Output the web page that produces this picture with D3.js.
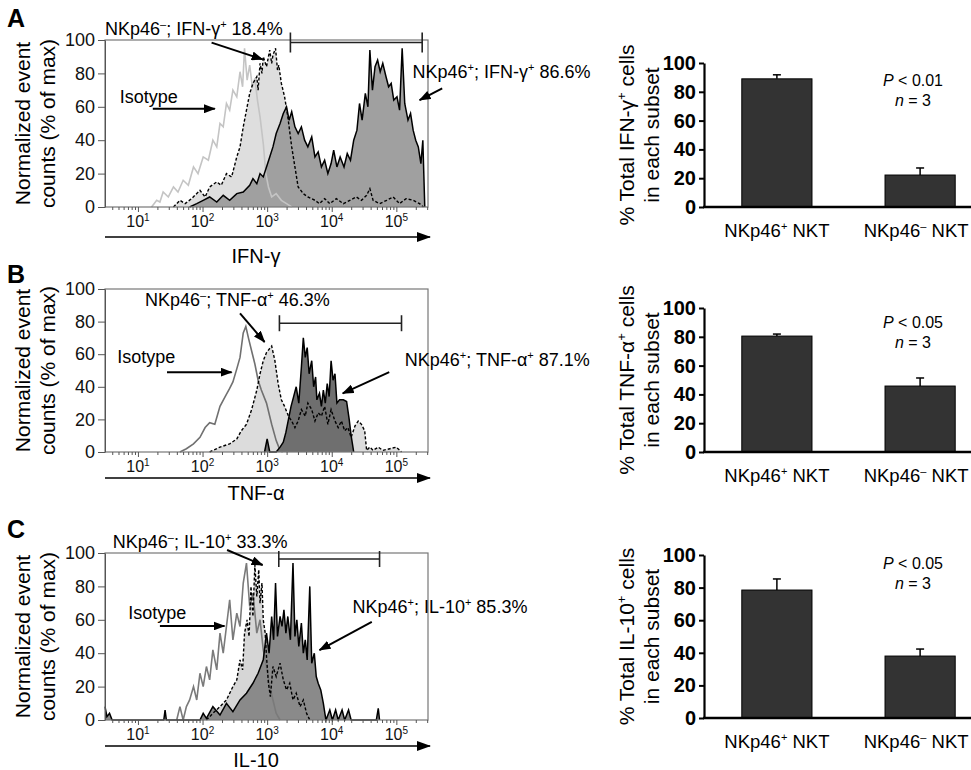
<!DOCTYPE html>
<html>
<head>
<meta charset="utf-8">
<script src="https://cdn.jsdelivr.net/npm/d3@7"></script>
<style>
  body { margin: 0; background: #fff; }
  svg { display: block; font-family: "Liberation Sans", Arial, Helvetica, sans-serif; }
</style>
</head>
<body>
<svg id="fig" width="971" height="770"></svg>
<script>
// histogram curves: [log10 fluorescence, % of max]
var ifnIsotype = [[1.21,0],[1.25,2],[1.29,4],[1.34,3],[1.39,9],[1.47,6],[1.55,12],[1.62,9],[1.70,16],[1.78,13],[1.86,24],[1.93,20],[2.01,30],[2.09,28],[2.16,40],[2.22,36],[2.27,50],[2.32,48],[2.37,62],[2.42,58],[2.47,70],[2.53,66],[2.58,81],[2.62,72],[2.65,95],[2.69,76],[2.73,85],[2.77,72],[2.81,77],[2.85,64],[2.89,54],[2.94,38],[2.98,20],[3.02,12],[3.07,6],[3.14,8],[3.22,4],[3.30,2],[3.38,0]];
var ifnNeg = [[1.55,0],[1.65,4],[1.73,2],[1.83,5],[1.96,10],[2.04,6],[2.11,12],[2.22,15],[2.29,13],[2.37,20],[2.45,18],[2.53,30],[2.58,36],[2.63,48],[2.68,58],[2.73,68],[2.78,74],[2.84,78],[2.86,70],[2.89,86],[2.92,80],[2.94,90],[2.99,84],[3.04,94],[3.07,86],[3.09,91],[3.13,95],[3.16,82],[3.18,85],[3.22,74],[3.27,66],[3.32,54],[3.38,36],[3.43,24],[3.48,12],[3.56,8],[3.63,6],[3.74,4],[3.81,2],[3.89,5],[3.97,2],[4.07,5],[4.18,2],[4.28,4],[4.38,6],[4.46,4],[4.54,7],[4.59,11],[4.64,4],[4.74,2],[4.85,4],[4.95,6],[5.05,2],[5.15,5],[5.26,4],[5.36,2],[5.42,0]];
var ifnPos = [[1.80,0],[1.91,2],[2.01,4],[2.11,6],[2.22,3],[2.32,7],[2.42,4],[2.53,8],[2.63,9],[2.73,13],[2.78,17],[2.84,14],[2.89,20],[2.94,18],[2.99,24],[3.04,30],[3.09,36],[3.14,44],[3.20,50],[3.25,56],[3.30,60],[3.34,52],[3.38,57],[3.43,48],[3.48,44],[3.53,48],[3.58,40],[3.63,36],[3.69,42],[3.74,30],[3.79,33],[3.84,24],[3.89,28],[3.94,20],[3.99,26],[4.03,34],[4.08,24],[4.13,30],[4.19,24],[4.24,32],[4.29,28],[4.34,40],[4.39,46],[4.43,62],[4.47,52],[4.52,68],[4.56,60],[4.59,94],[4.63,70],[4.67,84],[4.71,88],[4.75,81],[4.79,86],[4.84,78],[4.88,72],[4.92,74],[4.96,64],[5.01,66],[5.05,58],[5.09,95],[5.13,62],[5.18,52],[5.22,56],[5.26,46],[5.30,40],[5.34,36],[5.38,26],[5.41,40],[5.44,0]];

var tnfIsotype = [[1.65,0],[1.75,2],[1.86,5],[1.96,9],[2.04,15],[2.11,18],[2.19,17],[2.27,28],[2.35,34],[2.42,39],[2.47,43],[2.53,51],[2.58,58],[2.63,73],[2.67,77],[2.71,70],[2.76,62],[2.81,54],[2.86,44],[2.91,38],[2.99,30],[3.07,17],[3.14,7],[3.20,1],[3.24,0]];
var tnfNeg = [[2.11,0],[2.27,3],[2.42,5],[2.53,8],[2.60,13],[2.68,17],[2.76,26],[2.84,38],[2.89,48],[2.94,56],[2.99,61],[3.07,65],[3.12,56],[3.17,42],[3.22,32],[3.27,28],[3.33,22],[3.38,19],[3.43,15],[3.48,19],[3.53,26],[3.59,22],[3.63,30],[3.69,26],[3.74,19],[3.79,24],[3.84,22],[3.89,28],[3.94,17],[3.99,26],[4.05,19],[4.10,15],[4.15,19],[4.20,13],[4.25,15],[4.30,9],[4.36,16],[4.41,19],[4.46,17],[4.51,13],[4.54,1],[4.59,3],[4.64,1],[4.72,3],[4.79,1],[4.90,2],[5.00,3],[5.08,0]];
var tnfPos = [[2.96,0],[3.00,8],[3.04,0],[3.14,0],[3.20,3],[3.25,6],[3.29,12],[3.33,20],[3.37,28],[3.41,34],[3.45,40],[3.49,30],[3.53,52],[3.56,70],[3.59,58],[3.62,64],[3.65,48],[3.69,56],[3.72,40],[3.75,46],[3.77,32],[3.81,36],[3.84,28],[3.87,38],[3.90,30],[3.93,42],[3.96,34],[3.99,56],[4.02,44],[4.05,48],[4.08,30],[4.12,32],[4.18,32],[4.23,31],[4.27,20],[4.30,10],[4.34,0]];

var il10Isotype = [[1.60,0],[1.65,8],[1.70,0],[1.75,8],[1.80,12],[1.86,20],[1.91,12],[1.96,28],[2.01,20],[2.06,32],[2.11,24],[2.16,42],[2.22,30],[2.27,52],[2.32,40],[2.37,56],[2.42,72],[2.47,48],[2.53,64],[2.58,56],[2.63,82],[2.68,94],[2.73,68],[2.78,76],[2.84,52],[2.89,60],[2.94,42],[2.99,32],[3.04,20],[3.09,12],[3.14,4],[3.20,0]];
var il10Neg = [[2.06,0],[2.16,4],[2.27,8],[2.37,12],[2.47,20],[2.53,24],[2.58,36],[2.62,30],[2.65,52],[2.69,60],[2.72,50],[2.75,80],[2.78,62],[2.81,93],[2.84,74],[2.87,90],[2.89,70],[2.92,82],[2.94,60],[2.97,52],[2.99,38],[3.02,22],[3.05,14],[3.09,32],[3.14,26],[3.20,34],[3.25,24],[3.30,18],[3.35,22],[3.40,12],[3.45,16],[3.51,8],[3.56,12],[3.61,4],[3.66,0]];
var il10Pos = [[0.49,8],[0.52,2],[0.56,4],[0.60,0],[1.40,0],[1.42,6],[1.44,0],[1.96,0],[2.01,4],[2.06,1],[2.16,8],[2.27,3],[2.37,10],[2.47,5],[2.58,12],[2.68,16],[2.78,22],[2.86,28],[2.94,36],[2.99,52],[3.03,40],[3.07,62],[3.10,48],[3.13,82],[3.16,50],[3.20,62],[3.23,56],[3.26,66],[3.29,52],[3.32,62],[3.36,48],[3.40,94],[3.43,50],[3.46,60],[3.49,44],[3.53,58],[3.56,40],[3.59,48],[3.62,36],[3.66,80],[3.69,34],[3.73,40],[3.76,26],[3.79,22],[3.83,18],[3.87,10],[3.91,0],[3.97,6],[4.01,0],[4.06,6],[4.10,0],[4.16,6],[4.20,0],[4.26,6],[4.30,0],[4.69,0],[4.72,7],[4.74,0]];

// positive gates: [from log10, to log10, height %]
var ifnGate = [3.36, 5.40, 98.5];
var tnfGate = [3.19, 5.08, 79];
var il10Gate = [3.18, 4.74, 96.4];

var histYTicks = [0, 20, 40, 60, 80, 100];
var decadeLabels = [1, 2, 3, 4, 5];
var axisTitles = ["IFN-γ", "TNF-α", "IL-10"];
var negLabels = ["NKp46⁻; IFN-γ⁺ 18.4%", "NKp46⁻; TNF-α⁺ 46.3%", "NKp46⁻; IL-10⁺ 33.3%"];
var posLabels = ["NKp46⁺; IFN-γ⁺ 86.6%", "NKp46⁺; TNF-α⁺ 87.1%", "NKp46⁺; IL-10⁺ 85.3%"];

// bar charts
var barCategories = ["NKp46⁺ NKT", "NKp46⁻ NKT"];
var ifnPercent = [89, 22.2];
var ifnSem = [2.8, 4.9];
var tnfPercent = [80.5, 45.8];
var tnfSem = [1.4, 5.6];
var il10Percent = [78.5, 38];
var il10Sem = [6.8, 4.3];
var barYTicks = [0, 20, 40, 60, 80, 100];
var barYLabels = ["% Total IFN-γ⁺ cells", "% Total TNF-α⁺ cells", "% Total IL-10⁺ cells"];
var pValues = ["0.01", "0.05", "0.05"];
var nValues = [3, 3, 3];

var svg = d3.select("#fig");

// arrow heads
var defs = svg.append("defs");
defs.append("marker").attr("id", "head")
  .attr("markerUnits", "userSpaceOnUse").attr("viewBox", "0 0 12 9")
  .attr("markerWidth", 12).attr("markerHeight", 9)
  .attr("refX", 11).attr("refY", 4.5).attr("orient", "auto")
  .append("path").attr("d", "M0,0L12,4.5L0,9Z").attr("fill", "#000");
defs.append("marker").attr("id", "bighead")
  .attr("markerUnits", "userSpaceOnUse").attr("viewBox", "0 0 14 10")
  .attr("markerWidth", 14).attr("markerHeight", 10)
  .attr("refX", 13).attr("refY", 5).attr("orient", "auto")
  .append("path").attr("d", "M0,0L14,5L0,10Z").attr("fill", "#000");

// text with superscript + and - signs
function rich(el, str, fs) {
  var shift = Math.round(fs * 0.38);
  var raised = false;
  str.split(/([⁺⁻])/).forEach(function (p) {
    if (!p) return;
    var sup = (p === "⁺" || p === "⁻");
    var t = el.append("tspan").text(sup ? (p === "⁺" ? "+" : "–") : p);
    if (sup) {
      t.attr("font-size", Math.round(fs * 0.62)).attr("dy", raised ? 0 : -shift);
      raised = true;
    } else {
      t.attr("dy", raised ? shift : 0);
      raised = false;
    }
  });
  return el;
}

var histRows = [
  { letter: "A", letterY: 27, top: 40, bottom: 207, iso: ifnIsotype, neg: ifnNeg, pos: ifnPos, gate: ifnGate, gateTick: 10,
    isoColor: "#c4c4c4", negFill: "#dedede", posFill: "#a0a0a0", arrowY: 237, titleY: 263,
    negAt: [0.49, 103], negArrow: [[2.14, 98.4], [2.93, 88.4]],
    isoAt: [0.72, 62], isoArrow: [[1.23, 58.8], [2.19, 58.8]],
    posAt: [5.25, 77], posArrow: [[5.71, 71], [5.36, 64]] },
  { letter: "B", letterY: 283, top: 289, bottom: 452, iso: tnfIsotype, neg: tnfNeg, pos: tnfPos, gate: tnfGate, gateTick: 8,
    isoColor: "#707070", negFill: "#dcdcdc", posFill: "#6f6f6f", arrowY: 478, titleY: 500,
    negAt: [1.11, 89.5], negArrow: [[2.58, 85], [2.96, 67.5]],
    isoAt: [0.68, 54.6], isoArrow: [[1.45, 49], [2.45, 49]],
    posAt: [5.13, 52.8], posArrow: [[4.89, 49], [4.17, 36]] },
  { letter: "C", letterY: 538, top: 553, bottom: 720, iso: il10Isotype, neg: il10Neg, pos: il10Pos, gate: il10Gate, gateTick: 8,
    isoColor: "#7a7a7a", negFill: "#d6d6d6", posFill: "#8a8a8a", arrowY: 746, titleY: 767,
    negAt: [0.61, 103], negArrow: [[2.38, 101.8], [2.93, 92.8]],
    isoAt: [0.85, 60.5], isoArrow: [[1.34, 56.3], [2.34, 56.3]],
    posAt: [4.32, 64], posArrow: [[4.62, 58.7], [3.81, 41.9]] }
];

var x = d3.scaleLog().domain([Math.pow(10, 0.49), Math.pow(10, 5.49)]).range([105, 428]);
function px(e) { return x(Math.pow(10, e)); }

var xTicks = [];
[0, 1, 2, 3, 4, 5].forEach(function (k) {
  for (var m = 1; m <= 9; m++) {
    var v = m * Math.pow(10, k);
    if (v >= x.domain()[0] && v <= x.domain()[1]) xTicks.push(v);
  }
});

histRows.forEach(function (r, i) {
  var y = d3.scaleLinear().domain([0, 100]).range([r.bottom, r.top]);
  var g = svg.append("g");

  var area = d3.area().x(function (d) { return px(d[0]); }).y0(y(0)).y1(function (d) { return y(d[1]); });
  var line = d3.line().x(function (d) { return px(d[0]); }).y(function (d) { return y(d[1]); });

  g.append("path").datum(r.neg).attr("d", area).attr("fill", r.negFill);
  g.append("path").datum(r.pos).attr("d", area).attr("fill", r.posFill);
  g.append("path").datum(r.iso).attr("d", line).attr("fill", "none").attr("stroke", r.isoColor).attr("stroke-width", 1.6);
  g.append("path").datum(r.neg).attr("d", line).attr("fill", "none").attr("stroke", "#000")
    .attr("stroke-width", 1.4).attr("stroke-dasharray", "3,2");
  g.append("path").datum(r.pos).attr("d", line).attr("fill", "none").attr("stroke", "#000").attr("stroke-width", 1.5);

  // frame
  g.append("rect").attr("x", 105).attr("y", r.top).attr("width", 323).attr("height", r.bottom - r.top)
    .attr("fill", "none").attr("stroke", "#777").attr("stroke-width", 1.2);

  // y axis
  var gy = g.append("g").attr("transform", "translate(105,0)")
    .call(d3.axisLeft(y).tickValues(histYTicks).tickSize(7).tickSizeOuter(0).tickPadding(3));
  gy.select(".domain").attr("stroke", "#555");
  gy.selectAll(".tick line").attr("stroke", "#555");
  gy.selectAll(".tick text").attr("font-size", 18).attr("font-family", null).attr("fill", "#111");

  // x axis (log)
  var gx = g.append("g").attr("transform", "translate(0," + r.bottom + ")")
    .call(d3.axisBottom(x).tickValues(xTicks).tickSize(3).tickSizeOuter(0).tickFormat(""));
  gx.select(".domain").remove();
  gx.selectAll(".tick line").attr("stroke", "#555")
    .attr("y2", function (d) { return Math.abs(Math.log10(d) - Math.round(Math.log10(d))) < 1e-9 ? 5 : 3; });
  decadeLabels.forEach(function (k) {
    var t = gx.append("text").attr("x", x(Math.pow(10, k))).attr("y", 20)
      .attr("text-anchor", "middle").attr("font-size", 16).attr("fill", "#111");
    t.append("tspan").text("10");
    t.append("tspan").attr("dy", -6).attr("font-size", 10).text(k);
  });

  // axis arrow and title
  g.append("line").attr("x1", 105).attr("x2", 430).attr("y1", r.arrowY).attr("y2", r.arrowY)
    .attr("stroke", "#000").attr("stroke-width", 1.6).attr("marker-end", "url(#bighead)");
  g.append("text").attr("x", 256).attr("y", r.titleY).attr("text-anchor", "middle")
    .attr("font-size", 20).text(axisTitles[i]);

  // y label
  var yl = g.append("text").attr("transform", "translate(0," + ((r.top + r.bottom) / 2) + ") rotate(-90)")
    .attr("text-anchor", "middle").attr("font-size", 21);
  yl.append("tspan").attr("x", 0).attr("y", 30).text("Normalized event");
  yl.append("tspan").attr("x", 0).attr("y", 55).text("counts (% of max)");

  // panel letter
  g.append("text").attr("x", 7).attr("y", r.letterY).attr("font-size", 25).attr("font-weight", "bold").text(r.letter);

  // gate
  var gy0 = y(r.gate[2]);
  g.append("line").attr("x1", px(r.gate[0])).attr("x2", px(r.gate[1])).attr("y1", gy0).attr("y2", gy0)
    .attr("stroke", "#222").attr("stroke-width", 1.6);
  [r.gate[0], r.gate[1]].forEach(function (e) {
    g.append("line").attr("x1", px(e)).attr("x2", px(e)).attr("y1", gy0 - r.gateTick).attr("y2", gy0 + r.gateTick)
      .attr("stroke", "#222").attr("stroke-width", 1.6);
  });

  // annotations
  rich(g.append("text").attr("x", px(r.negAt[0])).attr("y", y(r.negAt[1])).attr("font-size", 18), negLabels[i], 18);
  rich(g.append("text").attr("x", px(r.posAt[0])).attr("y", y(r.posAt[1])).attr("font-size", 18), posLabels[i], 18);
  g.append("text").attr("x", px(r.isoAt[0])).attr("y", y(r.isoAt[1])).attr("font-size", 18).text("Isotype");
  [r.negArrow, r.isoArrow, r.posArrow].forEach(function (a) {
    g.append("line").attr("x1", px(a[0][0])).attr("y1", y(a[0][1])).attr("x2", px(a[1][0])).attr("y2", y(a[1][1]))
      .attr("stroke", "#000").attr("stroke-width", 2).attr("marker-end", "url(#head)");
  });
});

// bar charts
var barRows = [
  { zero: 207, top: 63, pct: ifnPercent, sem: ifnSem, pY: 86 },
  { zero: 452, top: 308, pct: tnfPercent, sem: tnfSem, pY: 328 },
  { zero: 718, top: 555, pct: il10Percent, sem: il10Sem, pY: 569 }
];

var bx = d3.scaleBand().domain(barCategories).range([706, 991]).paddingInner(0.51).paddingOuter(0.25);

barRows.forEach(function (r, i) {
  var by = d3.scaleLinear().domain([0, 100]).range([r.zero, r.top]);
  var g = svg.append("g");

  g.selectAll("rect.bar").data(barCategories).enter().append("rect")
    .attr("x", function (c) { return bx(c); })
    .attr("y", function (c, j) { return by(r.pct[j]); })
    .attr("width", bx.bandwidth())
    .attr("height", function (c, j) { return by(0) - by(r.pct[j]); })
    .attr("fill", "#333").attr("stroke", "#000").attr("stroke-width", 1);

  barCategories.forEach(function (c, j) {
    var cx = bx(c) + bx.bandwidth() / 2;
    g.append("line").attr("x1", cx).attr("x2", cx).attr("y1", by(r.pct[j])).attr("y2", by(r.pct[j] + r.sem[j]))
      .attr("stroke", "#000").attr("stroke-width", 1.5);
    g.append("line").attr("x1", cx - 4).attr("x2", cx + 4).attr("y1", by(r.pct[j] + r.sem[j])).attr("y2", by(r.pct[j] + r.sem[j]))
      .attr("stroke", "#000").attr("stroke-width", 1.5);
    // last label sits at the right edge like the reference
    rich(g.append("text").attr("x", j === 1 ? cx - 4 : cx).attr("y", r.zero + 30)
      .attr("text-anchor", "middle").attr("font-size", 18.5), c, 18.5);
  });

  var ga = g.append("g").attr("transform", "translate(704,0)")
    .call(d3.axisLeft(by).tickValues(barYTicks).tickSize(5).tickSizeOuter(0).tickPadding(3));
  ga.select(".domain").attr("stroke-width", 2.2);
  ga.selectAll(".tick line").attr("stroke-width", 2);
  ga.selectAll(".tick text").attr("font-size", 20).attr("font-weight", "bold").attr("font-family", null).attr("fill", "#000");

  g.append("line").attr("x1", 703).attr("x2", 971).attr("y1", r.zero).attr("y2", r.zero)
    .attr("stroke", "#000").attr("stroke-width", 2.5);

  var yl = g.append("text").attr("transform", "translate(0," + ((r.top + r.zero) / 2) + ") rotate(-90)")
    .attr("text-anchor", "middle").attr("font-size", 21);
  rich(yl.append("tspan").attr("x", 0).attr("y", 634), barYLabels[i], 21);
  yl.append("tspan").attr("x", 0).attr("y", 659).text("in each subset");

  var pt = g.append("text").attr("x", 913).attr("y", r.pY).attr("text-anchor", "middle").attr("font-size", 16);
  pt.append("tspan").attr("font-style", "italic").text("P");
  pt.append("tspan").text(" < " + pValues[i]);
  var nt = g.append("text").attr("x", 913).attr("y", r.pY + 20).attr("text-anchor", "middle").attr("font-size", 16);
  nt.append("tspan").attr("font-style", "italic").text("n");
  nt.append("tspan").text(" = " + nValues[i]);
});
</script>
</body>
</html>
